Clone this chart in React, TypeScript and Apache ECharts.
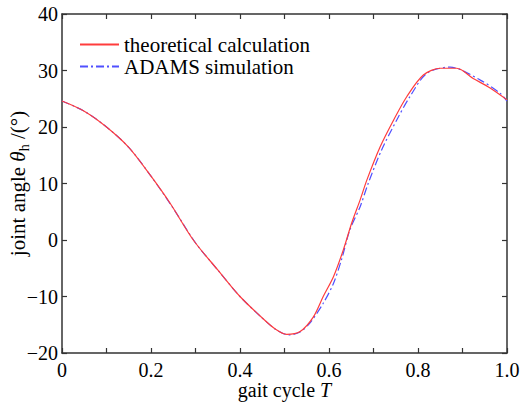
import React, { useEffect, useRef } from "react";
import * as echarts from "echarts";

const theoryX = [0, 0.05, 0.1, 0.15, 0.2, 0.243, 0.295, 0.35, 0.4, 0.45, 0.48, 0.505, 0.535, 0.565, 0.587, 0.61, 0.632, 0.651, 0.67, 0.685, 0.715, 0.745, 0.775, 0.812, 0.85, 0.887, 0.924, 0.962, 1.0];
const theoryY = [24.6, 22.8, 20.0, 16.4, 11.3, 6.5, 0, -5.3, -10.0, -13.8, -15.8, -16.7, -16.2, -13.6, -10.0, -6.5, -1.8, 3.0, 7.1, 10.6, 16.5, 21.2, 25.4, 29.2, 30.4, 30.4, 28.6, 26.9, 24.8];
const adamsX = [0, 0.05, 0.1, 0.15, 0.2, 0.25, 0.3, 0.35, 0.4, 0.45, 0.48, 0.51, 0.535, 0.557, 0.587, 0.61, 0.628, 0.647, 0.67, 0.688, 0.718, 0.752, 0.782, 0.82, 0.872, 0.94, 0.984, 1.0];
const adamsY = [24.6, 22.8, 20.0, 16.4, 11.3, 5.6, -0.5, -5.3, -10.0, -13.8, -15.8, -16.8, -16.3, -14.7, -11.2, -7.7, -3.5, 1.8, 5.9, 10.0, 15.9, 21.2, 25.4, 29.5, 30.6, 28.3, 26.0, 24.6];
const seriesNames = ["theoretical calculation", "ADAMS simulation"];

const FONT = "Liberation Serif";

export default function App() {
  const ref = useRef<HTMLDivElement>(null);
  useEffect(() => {
    const chart = echarts.init(ref.current!, null, { renderer: "svg" });
    const axisLine = { show: true, onZero: false, lineStyle: { color: "#333", width: 1.5 } };
    const tick = { show: true, inside: true, length: 5, lineStyle: { color: "#333", width: 1.2 } };
    const minorTick = { show: true, splitNumber: 2, length: 5, lineStyle: { color: "#333", width: 1.2 } };
    chart.setOption({
      animation: false,
      backgroundColor: "#fff",
      textStyle: { fontFamily: FONT },
      grid: { left: 62, right: 13, top: 14, bottom: 53, containLabel: false, outerBoundsMode: "none" },
      legend: {
        orient: "vertical",
        left: 79,
        top: 34,
        padding: 0,
        itemWidth: 39,
        itemHeight: 14,
        itemGap: 1,
        itemStyle: { opacity: 0 },
        textStyle: { fontFamily: FONT, fontSize: 21, color: "#000" },
        data: seriesNames,
      },
      xAxis: [
        {
          type: "value",
          min: 0,
          max: 1,
          interval: 0.2,
          position: "bottom",
          axisLine,
          axisTick: tick,
          minorTick,
          splitLine: { show: false },
          axisLabel: {
            fontFamily: FONT,
            fontSize: 20,
            color: "#000",
            margin: 7,
            formatter: (v: number) => (v === 0 ? "0" : v.toFixed(1)),
          },
          name: "gait cycle {i|T}",
          nameLocation: "middle",
          nameGap: 27,
          nameMoveOverlap: false,
          nameTextStyle: {
            fontFamily: FONT,
            fontSize: 20,
            color: "#000",
            rich: { i: { fontFamily: FONT, fontSize: 20, fontStyle: "italic", color: "#000" } },
          },
        },
        {
          type: "value",
          min: 0,
          max: 1,
          interval: 0.2,
          position: "top",
          axisLine,
          axisTick: tick,
          minorTick,
          splitLine: { show: false },
          axisLabel: { show: false },
        },
      ],
      yAxis: [
        {
          type: "value",
          min: -20,
          max: 40,
          interval: 10,
          position: "left",
          axisLine,
          axisTick: tick,
          splitLine: { show: false },
          axisLabel: {
            fontFamily: FONT,
            fontSize: 20,
            color: "#000",
            margin: 4,
            formatter: (v: number) => (v < 0 ? "\u2212" + Math.abs(v) : String(v)),
          },
          name: "{n|joint angle }{i|θ}{s|h}{n| /(°)}",
          nameLocation: "middle",
          nameRotate: 90,
          nameGap: 31,
          nameMoveOverlap: false,
          nameTextStyle: {
            fontFamily: FONT,
            fontSize: 21,
            color: "#000",
            rich: {
              n: { fontFamily: FONT, fontSize: 21, color: "#000", lineHeight: 26, verticalAlign: "middle" },
              i: { fontFamily: FONT, fontSize: 21, fontStyle: "italic", color: "#000", lineHeight: 26, verticalAlign: "middle" },
              s: { fontFamily: FONT, fontSize: 14, color: "#000", verticalAlign: "bottom", lineHeight: 15 },
            },
          },
        },
        {
          type: "value",
          min: -20,
          max: 40,
          interval: 10,
          position: "right",
          axisLine,
          axisTick: tick,
          splitLine: { show: false },
          axisLabel: { show: false },
        },
      ],
      series: [
        {
          name: seriesNames[0],
          type: "line",
          smooth: 0.3,
          showSymbol: false,
          symbol: "none",
          lineStyle: { color: "#ff3c3c", width: 1.2 },
          itemStyle: { color: "#ff3c3c" },
          data: theoryX.map((x, i) => [x, theoryY[i]]),
          z: 3,
        },
        {
          name: seriesNames[1],
          type: "line",
          smooth: 0.3,
          showSymbol: false,
          symbol: "none",
          lineStyle: { color: "#5050ff", width: 1.2, type: [8, 3, 2, 3] },
          itemStyle: { color: "#5050ff" },
          data: adamsX.map((x, i) => [x, adamsY[i]]),
          z: 2,
        },
      ],
    });
    return () => chart.dispose();
  }, []);
  return <div ref={ref} style={{ width: 520, height: 406, position: "absolute", left: 0, top: 0 }} />;
}
